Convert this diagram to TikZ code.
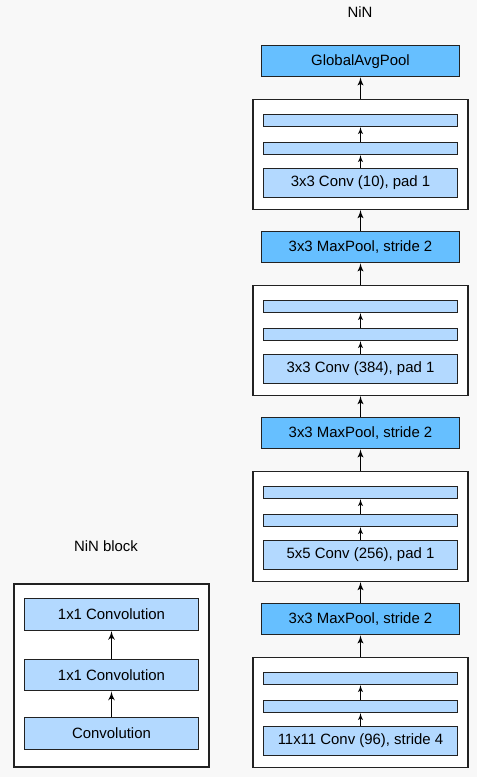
\documentclass[tikz,border=0pt]{standalone}
\usepackage{fontspec}
\setmainfont{Liberation Sans}
\usepackage{xcolor}
\usepackage{tikz}
\usetikzlibrary{positioning,shapes,arrows,calc}
\definecolor{poolblue}{HTML}{66BFFF}
\definecolor{convblue}{HTML}{B3D9FF}
\definecolor{pagegray}{HTML}{F8F8F8}
\definecolor{edgegray}{HTML}{222222}
\tikzstyle{every node}=[font=\fontsize{11.2}{13.4}\selectfont]
\tikzstyle{layer}=[rectangle, draw=edgegray, line width=0.9pt,
  fill=convblue, minimum width=146pt, minimum height=21.75pt, inner sep=0pt]
\tikzstyle{bar}=[layer, minimum height=9pt]
\tikzstyle{pool}=[layer, fill=poolblue, minimum width=148.5pt,
  minimum height=23.25pt]
\tikzstyle{unit}=[layer, minimum width=130.8pt, minimum height=23.7pt]
\tikzstyle{block}=[rectangle, draw=edgegray, line width=1.1pt, fill=white,
  minimum width=161pt, minimum height=82.5pt, inner sep=0pt]
\tikzstyle{line} = [draw, line width=1.1pt, -latex']
\tikzstyle{thinline} = [draw, line width=0.8pt, -latex']
\tikzstyle{boldline} = [draw, line width=1.3pt, -latex']
% one stage of the NiN column: #1 name, #2 y shift, #3 pool text, #4 conv text
\newcommand{\ninstage}[4]{
\node (#1pool) [pool] at (360.5,61.2+#2) {#3};
\node (#1blk) [block] at (360.5,154.3+#2) {};
\node (#1bar1) [bar] at (360.5,120.5+#2) {};
\node (#1bar2) [bar] at (360.5,148.5+#2) {};
\node (#1conv) [layer] at (360.5,182.8+#2) {#4};
\draw[thinline] (#1conv.north) -- (#1bar2.south);
\draw[thinline] (#1bar2.north) -- (#1bar1.south);
\draw[line] (#1blk.north) -- (#1pool.south);
}

\begin{document}
\begin{tikzpicture}[x=0.75pt, y=-0.75pt]
    \useasboundingbox[fill=pagegray] (0,0) rectangle (477,777);
    % NiN column
    \node (nintitle) at (360,12) {NiN};
    \ninstage{sa}{0}{GlobalAvgPool}{3x3 Conv (10), pad 1}
    \ninstage{sb}{186}{3x3 MaxPool, stride 2}{3x3 Conv (384), pad 1}
    \ninstage{sc}{372}{3x3 MaxPool, stride 2}{5x5 Conv (256), pad 1}
    \ninstage{sd}{558}{3x3 MaxPool, stride 2}{11x11 Conv (96), stride 4}
    \draw[line] (sbpool.north) -- (sablk.south);
    \draw[line] (scpool.north) -- (sbblk.south);
    \draw[line] (sdpool.north) -- (scblk.south);
    % NiN block
    \node (nbtitle) at (106,545.7) {NiN block};
    \node (nbblk) [block, minimum width=146.25pt, minimum height=137.25pt]
          at (111.5,675.5) {};
    \node (nbconv) [unit] at (111.5,733.5) {Convolution};
    \node (nbmid) [unit] at (111.5,675) {1x1 Convolution};
    \node (nbtop) [unit] at (111.5,614.5) {1x1 Convolution};
    \draw[boldline] (nbconv) -- (nbmid);
    \draw[boldline] (nbmid) -- (nbtop);
\end{tikzpicture}
\end{document}
